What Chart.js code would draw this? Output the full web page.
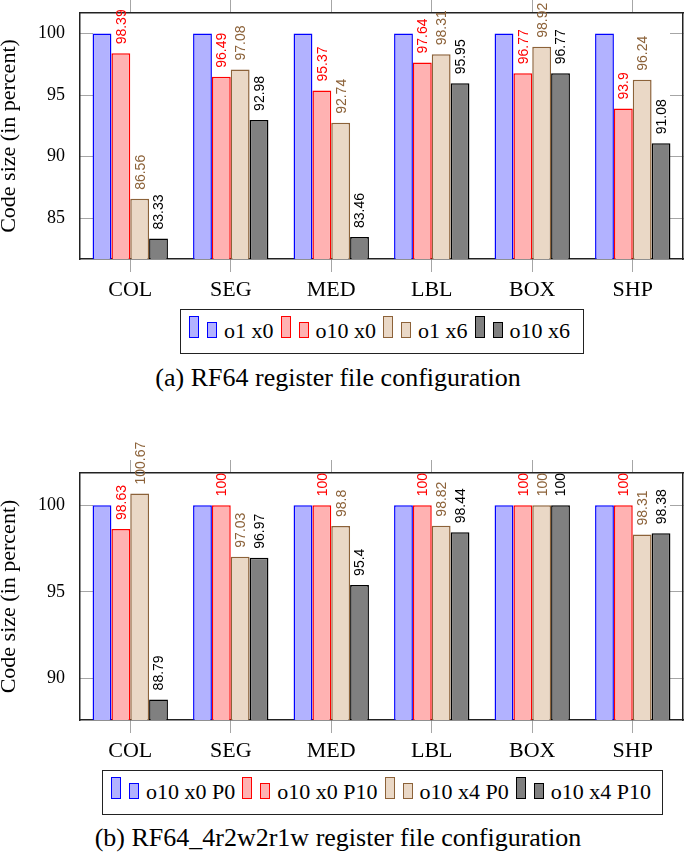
<!DOCTYPE html>
<html>
<head>
<meta charset="utf-8">
<script src="https://cdn.jsdelivr.net/npm/chart.js@4.4.1/dist/chart.umd.min.js"></script>
<style>
  body { margin: 0; background: #fff; }
  #page { position: relative; width: 685px; height: 856px; overflow: hidden; font-family: 'Liberation Serif', 'DejaVu Serif', serif; }
  canvas { position: absolute; left: 0; }
  .legend { position: absolute; height: 45px; border: 1.5px solid #222; box-sizing: border-box; }
  .legend .row { position: absolute; left: 8px; top: 5.5px; height: 22px; display: flex; align-items: flex-end; }
  .item { display: flex; align-items: flex-end; }
  .item + .item { margin-left: 7px; }
  .sw { box-sizing: border-box; border: 1.5px solid; width: 10px; }
  .tall { height: 22px; }
  .small { height: 16px; margin-left: 8px; }
  .lt { font-size: 22px; line-height: 22px; margin-left: 7px; position: relative; top: 4px; white-space: nowrap; }
  .caption { position: absolute; left: 0; width: 676px; text-align: center; font-size: 26px; line-height: 26px; white-space: nowrap; }
</style>
</head>
<body>
<div id="page">
  <canvas id="chartA" width="685" height="305" style="top:0px"></canvas>
  <div class="legend" id="legendA" style="left:180px; top:309px; width:404px"></div>
  <div class="caption" style="top:365px">(a) RF64 register file configuration</div>

  <canvas id="chartB" width="685" height="335" style="top:435px"></canvas>
  <div class="legend" id="legendB" style="left:102px; top:770px; width:561px"></div>
  <div class="caption" style="top:825px">(b) RF64_4r2w2r1w register file configuration</div>
</div>
<script>
// benchmarks
const categories = ['COL', 'SEG', 'MED', 'LBL', 'BOX', 'SHP'];

// (a) RF64
const namesA = ['o1 x0', 'o10 x0', 'o1 x6', 'o10 x6'];
const a_o1x0 = [100, 100, 100, 100, 100, 100];
const a_o10x0 = [98.39, 96.49, 95.37, 97.64, 96.77, 93.9];
const a_o1x6 = [86.56, 97.08, 92.74, 98.31, 98.92, 96.24];
const a_o10x6 = [83.33, 92.98, 83.46, 95.95, 96.77, 91.08];
const yTicksA = [85, 90, 95, 100];

// (b) RF64_4r2w2r1w
const namesB = ['o10 x0 P0', 'o10 x0 P10', 'o10 x4 P0', 'o10 x4 P10'];
const b_x0p0 = [100, 100, 100, 100, 100, 100];
const b_x0p10 = [98.63, 100, 100, 100, 100, 100];
const b_x4p0 = [100.67, 97.03, 98.8, 98.82, 100, 98.31];
const b_x4p10 = [88.79, 96.97, 95.4, 98.44, 100, 98.38];
const yTicksB = [90, 95, 100];

const yTitle = 'Code size (in percent)';

// bar styles (fill, border, label colour or null)
const styles = [
  { fill: 'rgb(178,178,255)', line: 'rgb(0,0,255)', label: null },
  { fill: 'rgb(255,178,178)', line: 'rgb(255,0,0)', label: 'rgb(255,0,0)' },
  { fill: 'rgb(234,216,198)', line: 'rgb(140,98,57)', label: 'rgb(140,98,57)' },
  { fill: 'rgb(128,128,128)', line: 'rgb(0,0,0)', label: 'rgb(0,0,0)' }
];

const serif = "'Liberation Serif', 'DejaVu Serif', serif";
const frame = { display: true, color: '#222', width: 1.5 };
const tickGray = '#a6a6a6';

// rotated value labels above the bars
const valueLabels = {
  id: 'valueLabels',
  afterDatasetsDraw(chart) {
    const ctx = chart.ctx;
    chart.data.datasets.forEach((ds, i) => {
      if (!ds.labelColor) return;
      const meta = chart.getDatasetMeta(i);
      meta.data.forEach((bar, j) => {
        ctx.save();
        ctx.translate(bar.x + 1, bar.y - 9);
        ctx.rotate(-Math.PI / 2);
        ctx.font = '14px "Liberation Sans", Arial, sans-serif';
        ctx.fillStyle = ds.labelColor;
        ctx.textAlign = 'left';
        ctx.textBaseline = 'middle';
        ctx.fillText(String(ds.data[j]), 0, 0);
        ctx.restore();
      });
    });
  }
};

// fixed axis sizes so the plot area sits where the original has it
const fixV = w => s => { s.width = w; s.paddingTop = 0; s.paddingBottom = 0; };
const fixH = h => s => { s.height = h; s.paddingLeft = 0; s.paddingRight = 0; };

function makeChart(id, names, series, yMin, yMax, yTicks, padTop, xHeight) {
  const datasets = series.map((vals, i) => ({
    label: names[i],
    data: vals,
    backgroundColor: styles[i].fill,
    borderColor: styles[i].line,
    borderWidth: 1.5,
    labelColor: styles[i].label,
    categoryPercentage: 0.75,
    barPercentage: 1.0
  }));
  const setTicks = s => { s.ticks = yTicks.map(v => ({ value: v })); };
  return new Chart(document.getElementById(id), {
    type: 'bar',
    data: { labels: categories, datasets: datasets },
    plugins: [valueLabels],
    options: {
      responsive: false,
      animation: false,
      layout: { padding: { top: padTop, left: 0, right: 0, bottom: 0 }, autoPadding: false },
      plugins: { legend: { display: false }, tooltip: { enabled: false } },
      scales: {
        x: {
          position: 'bottom',
          offset: true,
          grid: { offset: false, drawOnChartArea: false, tickLength: 13, color: tickGray },
          border: frame,
          ticks: { color: '#000', font: { family: serif, size: 22 }, padding: 5, maxRotation: 0, autoSkip: false },
          afterFit: fixH(xHeight)
        },
        xTop: {
          type: 'category',
          position: 'top',
          offset: true,
          grid: { offset: false, drawOnChartArea: false, tickLength: 13, color: tickGray },
          border: frame,
          ticks: { display: false },
          afterFit: fixH(13)
        },
        y: {
          position: 'left',
          min: yMin,
          max: yMax,
          grid: { drawOnChartArea: false, tickLength: -13, color: tickGray },
          border: frame,
          ticks: { color: '#000', font: { family: serif, size: 18 }, padding: 28 },
          title: { display: true, text: yTitle, color: '#000', padding: 0, font: { family: serif, size: 22, lineHeight: 0.8 } },
          afterBuildTicks: setTicks,
          afterFit: fixV(80)
        },
        yRight: {
          position: 'right',
          min: yMin,
          max: yMax,
          grid: { drawOnChartArea: false, tickLength: -13, color: tickGray },
          border: frame,
          ticks: { display: false },
          afterBuildTicks: setTicks,
          afterFit: fixV(2)
        }
      }
    }
  });
}

function makeLegend(id, names) {
  const box = document.getElementById(id);
  const row = document.createElement('div');
  row.className = 'row';
  names.forEach((n, i) => {
    const item = document.createElement('div');
    item.className = 'item';
    const st = 'background:' + styles[i].fill + ';border-color:' + styles[i].line;
    item.innerHTML = '<span class="sw tall" style="' + st + '"></span>' +
      '<span class="sw small" style="' + st + '"></span>' +
      '<span class="lt"></span>';
    item.querySelector('.lt').textContent = n;
    row.appendChild(item);
  });
  box.appendChild(row);
}

makeChart('chartA', namesA, [a_o1x0, a_o10x0, a_o1x6, a_o10x6], 81.67, 101.67, yTicksA, 0, 46);
makeChart('chartB', namesB, [b_x0p0, b_x0p10, b_x4p0, b_x4p10], 87.6, 101.86, yTicksB, 25, 50);
makeLegend('legendA', namesA);
makeLegend('legendB', namesB);
</script>
</body>
</html>
